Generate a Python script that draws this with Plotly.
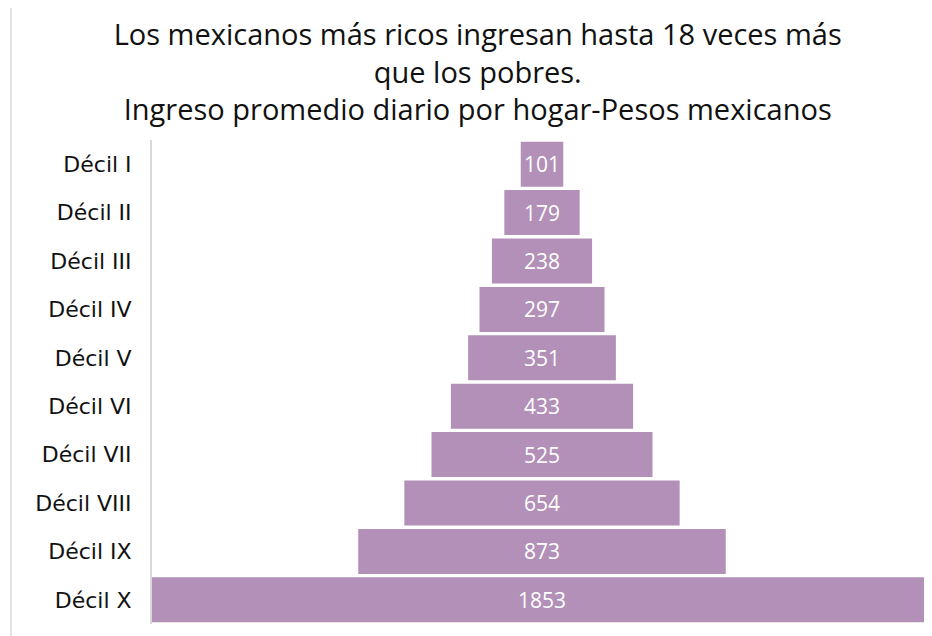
import plotly.graph_objects as go

deciles = ["Décil I", "Décil II", "Décil III", "Décil IV", "Décil V",
           "Décil VI", "Décil VII", "Décil VIII", "Décil IX", "Décil X"]
ingreso = [101, 179, 238, 297, 351, 433, 525, 654, 873, 1853]

fig = go.Figure(go.Funnel(
    y=deciles,
    x=ingreso,
    textinfo="value",
    textposition="inside",
    insidetextanchor="middle",
    textfont=dict(color="white", size=21, family="Open Sans"),
    marker=dict(color="#b290b8", line=dict(width=0)),
    connector=dict(visible=False),
))

half = max(ingreso) / 2
# page body adds 8px margin, so compensate here
fig.update_layout(
    width=932, height=636,
    margin=dict(l=144, r=8, t=132, b=20),
    paper_bgcolor="white", plot_bgcolor="white",
    funnelgap=0.07,
    showlegend=False,
    font=dict(family="DejaVu Sans"),
    title=dict(
        text="Los mexicanos más ricos ingresan hasta 18 veces más<br>que los pobres.<br>Ingreso promedio diario por hogar-Pesos mexicanos",
        x=0.504, xref="container", xanchor="center",
        y=0.942, yref="container", yanchor="top",
        font=dict(family="Open Sans", size=29, color="#111"),
    ),
)
# faint frame line on the left of the slide
fig.add_shape(type="line", xref="paper", yref="paper",
              x0=-0.1808, x1=-0.1808, y0=-0.05, y1=1.3,
              line=dict(color="#e3e3e3", width=2))
fig.update_xaxes(visible=False, range=[-half, half])
fig.update_yaxes(
    automargin=False,
    showline=True, linecolor="#d9d9d9", linewidth=2,
    tickfont=dict(family="DejaVu Sans", size=22, color="#111"),
    ticklabelstandoff=14,
)

fig.write_html("out.html")
